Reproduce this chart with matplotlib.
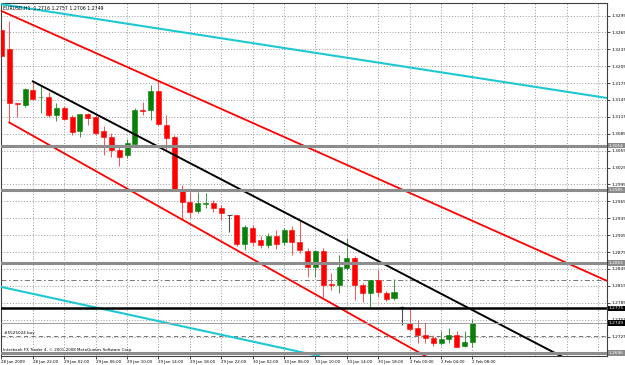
import matplotlib
matplotlib.use('Agg')
import matplotlib.pyplot as plt
import matplotlib.transforms as mtransforms
import numpy as np

# EURUSD H1 bars, 28 Jan 18:00 .. 2 Feb 08:00 ------------------------------
opens  = [1.3269, 1.3236, 1.3140, 1.3136, 1.3163, 1.3150, 1.3150, 1.3118, 1.3131, 1.3115,
          1.3090, 1.3120, 1.3115, 1.3090, 1.3079, 1.3056, 1.3047, 1.3067, 1.3128, 1.3127,
          1.3161, 1.3101, 1.3079, 1.2985, 1.2964, 1.2948, 1.2960, 1.2963, 1.2953, 1.2940,
          1.2940, 1.2889, 1.2918, 1.2896, 1.2887, 1.2904, 1.2893, 1.2914, 1.2893, 1.2877,
          1.2848, 1.2877, 1.2818, 1.2817, 1.2846, 1.2865, 1.2817, 1.2802, 1.2825, 1.2802,
          1.2793, 1.2778, 1.2749, 1.2740, 1.2728, 1.2722, 1.2714, 1.2720, 1.2728, 1.2708,
          1.2716]
highs  = [1.3273, 1.3285, 1.3140, 1.3166, 1.3178, 1.3169, 1.3160, 1.3140, 1.3134, 1.3118,
          1.3121, 1.3122, 1.3118, 1.3099, 1.3086, 1.3063, 1.3076, 1.3131, 1.3142, 1.3172,
          1.3178, 1.3118, 1.3083, 1.2994, 1.2982, 1.2982, 1.2980, 1.2967, 1.2959, 1.2941,
          1.2941, 1.2923, 1.2923, 1.2904, 1.2909, 1.2914, 1.2918, 1.2921, 1.2932, 1.2882,
          1.2879, 1.2882, 1.2838, 1.2870, 1.2900, 1.2868, 1.2820, 1.2825, 1.2843, 1.2806,
          1.2828, 1.2779, 1.2778, 1.2754, 1.2751, 1.2728, 1.2734, 1.2740, 1.2734, 1.2734,
          1.2757]
lows   = [1.3220, 1.3106, 1.3115, 1.3133, 1.3145, 1.3122, 1.3114, 1.3107, 1.3110, 1.3083,
          1.3080, 1.3101, 1.3083, 1.3047, 1.3044, 1.3027, 1.3042, 1.3065, 1.3118, 1.3110,
          1.3100, 1.3056, 1.2985, 1.2932, 1.2936, 1.2944, 1.2953, 1.2947, 1.2932, 1.2911,
          1.2886, 1.2879, 1.2886, 1.2882, 1.2882, 1.2880, 1.2887, 1.2870, 1.2873, 1.2831,
          1.2831, 1.2796, 1.2808, 1.2803, 1.2843, 1.2790, 1.2787, 1.2778, 1.2796, 1.2788,
          1.2790, 1.2746, 1.2734, 1.2713, 1.2713, 1.2708, 1.2710, 1.2713, 1.2706, 1.2706,
          1.2706]
closes = [1.3223, 1.3140, 1.3138, 1.3164, 1.3146, 1.3151, 1.3118, 1.3131, 1.3112, 1.3089,
          1.3120, 1.3113, 1.3087, 1.3079, 1.3056, 1.3044, 1.3069, 1.3127, 1.3126, 1.3161,
          1.3102, 1.3077, 1.2987, 1.2964, 1.2947, 1.2962, 1.2963, 1.2953, 1.2944, 1.2940,
          1.2889, 1.2920, 1.2893, 1.2887, 1.2904, 1.2889, 1.2914, 1.2893, 1.2879, 1.2848,
          1.2877, 1.2817, 1.2817, 1.2848, 1.2865, 1.2817, 1.2802, 1.2825, 1.2804, 1.2791,
          1.2805, 1.2778, 1.2738, 1.2728, 1.2722, 1.2713, 1.2720, 1.2728, 1.2707, 1.2716,
          1.2749]

# axis labels --------------------------------------------------------------
time_labels = ['28 Jan 2009', '28 Jan 22:00', '29 Jan 02:00', '29 Jan 06:00',
               '29 Jan 10:00', '29 Jan 14:00', '29 Jan 18:00', '29 Jan 22:00',
               '30 Jan 02:00', '30 Jan 06:00', '30 Jan 10:00', '30 Jan 14:00',
               '30 Jan 18:00', '2 Feb 00:00', '2 Feb 04:00', '2 Feb 08:00']
label_step = 4   # one time label every 4 bars
price_labels = ['1.3295', '1.3265', '1.3235', '1.3205', '1.3175', '1.3145', '1.3115',
                '1.3085', '1.3055', '1.3025', '1.2995', '1.2965', '1.2935', '1.2905',
                '1.2875', '1.2845', '1.2815', '1.2785', '1.2755', '1.2725']

# objects drawn on the chart (bar index, price) ----------------------------
cyan_upper  = [(0, 1.3315), (76, 1.3151)]
cyan_lower  = [(0, 1.2813), (36, 1.2704)]
red_upper   = [(0, 1.3303), (76, 1.2831)]
red_lower   = [(1, 1.3105), (52, 1.2706)]   # ray starting at bar 1
black_trend = [(4, 1.3178), (52, 1.2830)]   # ray starting at bar 4
gray_levels = [1.3064, 1.2985, 1.2855, 1.2696]
black_level = 1.2775
order_levels = [1.2825, 1.2726]
title = 'EURUSD,H1  1.2716 1.2757 1.2706 1.2749'

# figure -------------------------------------------------------------------
fig = plt.figure(figsize=(6.25, 3.65), dpi=100)
ax = fig.add_axes([1 / 625, 9 / 365, 605.5 / 625, 353 / 365])
ax.set_xlim(-0.06, 77.07)
ax.set_ylim(1.26905, 1.33172)

x = np.arange(len(opens))
o, h, l, c = map(np.array, (opens, highs, lows, closes))
up = c > o
dn = c < o
dj = c == o

# grid
for k in range(0, 77, label_step):
    ax.axvline(k, color='#8a8a8a', lw=0.6, ls=(0, (1.2, 2.2)), zorder=0)
for p in price_labels:
    ax.axhline(float(p), color='#8a8a8a', lw=0.6, ls=(0, (1.2, 2.2)), zorder=0)

# candles
w = 0.64
ax.vlines(x[up], l[up], h[up], color='#3c963c', lw=0.7, zorder=2)
ax.vlines(x[dn], l[dn], h[dn], color='#ff5050', lw=0.7, zorder=2)
ax.vlines(x[dj], l[dj], h[dj], color='#505050', lw=0.8, zorder=2)
ax.hlines(c[dj], x[dj] - w / 2, x[dj] + w / 2, color='#505050', lw=0.8, zorder=2)
ax.bar(x[up], c[up] - o[up], w, bottom=o[up], color='#0a800a', ec='#0a800a', lw=0.4, zorder=3)
ax.bar(x[dn], o[dn] - c[dn], w, bottom=c[dn], color='#ff0000', ec='#ff0000', lw=0.4, zorder=3)

# trend lines
ax.axline(*cyan_upper, color='#1ec8d2', lw=1.5, zorder=4)
ax.axline(*cyan_lower, color='#1ec8d2', lw=1.5, zorder=4)
ax.axline(*red_upper, color='#ff0000', lw=1.3, zorder=4)


def ray(pts, **kw):
    (x1, y1), (x2, y2) = pts
    xe = 80
    ax.plot([x1, xe], [y1, y1 + (y2 - y1) * (xe - x1) / (x2 - x1)], **kw)


ray(red_lower, color='#ff0000', lw=1.3, zorder=4)
ray(black_trend, color='black', lw=1.4, zorder=4)

# horizontal levels
lab = mtransforms.blended_transform_factory(ax.transAxes, ax.transData)
for p in gray_levels:
    ax.axhline(p, color='#8c8c8c', lw=2.2, zorder=4)
    ax.text(1.004, p, f'{p:.4f}', transform=lab, fontsize=3.1, color='white',
            va='center', ha='left', clip_on=False, zorder=6,
            bbox=dict(boxstyle='square,pad=0.2', fc='#8c8c8c', ec='none'))
ax.axhline(black_level, color='black', lw=1.8, zorder=4)
ax.axhline(closes[-1], color='#a0a0a0', lw=0.7, zorder=4)
for p in (black_level, closes[-1]):
    ax.text(1.004, p, f'{p:.4f}', transform=lab, fontsize=3.1, color='white',
            va='center', ha='left', clip_on=False, zorder=6,
            bbox=dict(boxstyle='square,pad=0.2', fc='black', ec='none'))
ax.axhline(order_levels[0], color='#606060', lw=0.6, ls=(0, (6, 3, 2, 3)), zorder=1)
ax.axhline(order_levels[1], color='#606060', lw=0.6, ls=(0, (5, 4)), zorder=1)

# axes, ticks
ax.yaxis.tick_right()
ax.set_yticks([float(p) for p in price_labels], price_labels)
ax.set_xticks(np.arange(len(time_labels)) * label_step, time_labels)
ax.tick_params(axis='y', length=2, width=0.5, labelsize=3.1, pad=1.5)
ax.tick_params(axis='x', length=2, width=0.5, labelsize=2.9, pad=0.8)
for t in ax.get_xticklabels():
    t.set_ha('left')
for s in ax.spines.values():
    s.set_linewidth(0.8)
    s.set_color('#404040')

fig.text(3 / 625, 1 - 8 / 365, title, fontsize=3.3, va='center', ha='left')
fig.text(4 / 625, 1 - 333 / 365, '#5525024 buy', fontsize=3.0, va='center', ha='left')
fig.text(3 / 625, 1 - 350 / 365, 'Interbank FX Trader 4, \u00a9 2001-2008 MetaQuotes Software Corp.',
         fontsize=2.9, va='center', ha='left')

fig.savefig('out.png', dpi=100)
